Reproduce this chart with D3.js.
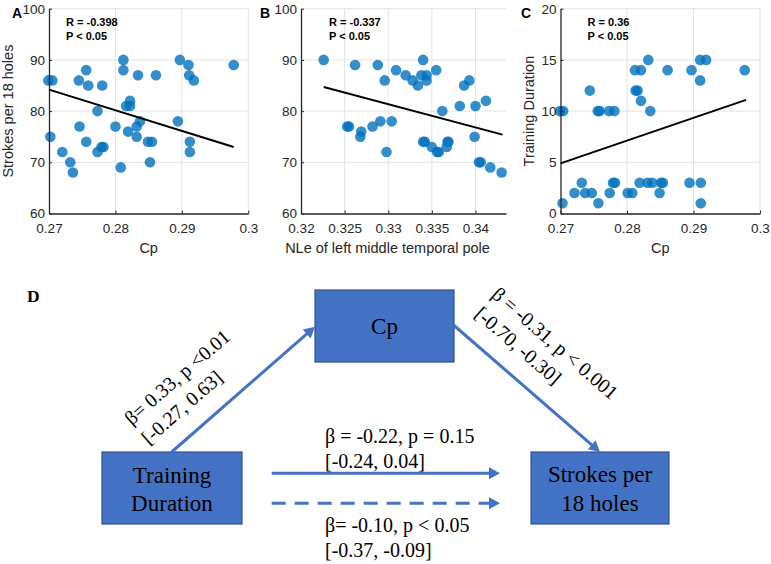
<!DOCTYPE html>
<html>
<head>
<meta charset="utf-8">
<script src="https://cdn.jsdelivr.net/npm/d3@7"></script>
<style>
  body { margin: 0; background: #fff; }
  svg text { fill: #262626; }
  .tick text { font-family: Arial, "Liberation Sans", sans-serif; font-size: 13.5px; }
</style>
</head>
<body>
<div id="chart"></div>
<script>
// panel A: Cp vs strokes
const cpA = [0.2699, 0.2705, 0.2702, 0.2720, 0.2732, 0.2736, 0.2745, 0.2746, 0.2756, 0.2759,
             0.2756, 0.2773, 0.2773, 0.2780, 0.2779, 0.2782, 0.2800, 0.2808, 0.2812, 0.2812,
             0.2816, 0.2822, 0.2822, 0.2819, 0.2832, 0.2837, 0.2832, 0.2834, 0.2849, 0.2855,
             0.2852, 0.2861, 0.2894, 0.2897, 0.2910, 0.2911, 0.2918, 0.2912, 0.2912, 0.2978];
const strokesA = [86, 86, 75, 72, 70, 68, 86, 77, 88, 85,
                  74, 80, 72, 85, 73, 73, 77, 69, 90, 88,
                  81, 82, 81, 76, 77, 78, 75, 87, 74, 74,
                  70, 87, 78, 90, 89, 87, 86, 74, 72, 89];
// panel B: NLe of left middle temporal pole vs strokes
const nleB = [0.3226, 0.3253, 0.3255, 0.3262, 0.3269, 0.3268, 0.3282, 0.3288, 0.3291, 0.3296,
              0.3298, 0.3304, 0.3309, 0.3320, 0.3328, 0.3334, 0.3338, 0.3340, 0.3344, 0.3344,
              0.3340, 0.3342, 0.3350, 0.3356, 0.3358, 0.3355, 0.3362, 0.3367, 0.3368, 0.3369,
              0.3382, 0.3387, 0.3393, 0.3399, 0.3400, 0.3404, 0.3406, 0.3412, 0.3417, 0.3430];
const strokesB = [90, 77, 77, 89, 76, 75, 77, 89, 78, 86,
                  72, 78, 88, 87, 86, 85, 87, 90, 86, 87,
                  74, 74, 73, 72, 72, 88, 80, 73, 74, 74,
                  81, 85, 86, 75, 81, 70, 70, 82, 69, 68];
// panel C: Cp vs training duration
const cpC = [0.2699, 0.2704, 0.2744, 0.2756, 0.2759, 0.2773, 0.2781, 0.2812, 0.2813, 0.2816,
             0.2821, 0.2821, 0.2832, 0.2835, 0.2861, 0.2897, 0.2910, 0.2919, 0.2910, 0.2977,
             0.2732, 0.2779, 0.2782, 0.2819, 0.2831, 0.2838, 0.2851, 0.2854, 0.2894, 0.2911,
             0.2721, 0.2737, 0.2747, 0.2774, 0.2801, 0.2808, 0.2849, 0.2703, 0.2757, 0.2911];
const trainC = [10, 10, 12, 10, 10, 10, 10, 14, 12, 12,
                14, 11, 15, 10, 14, 14, 15, 15, 13, 14,
                3, 3, 3, 3, 3, 3, 3, 3, 3, 3,
                2, 2, 2, 2, 2, 2, 2, 1, 1, 1];

// fitted lines (end points)
const fitAx = [0.27, 0.2978], fitAy = [84.2, 73.0];
const fitBx = [0.3226, 0.3431], fitBy = [84.7, 75.4];
const fitCx = [0.27, 0.2979], fitCy = [4.9, 11.1];

const statsA = ["R = -0.398", "P < 0.05"];
const statsB = ["R = -0.337", "P < 0.05"];
const statsC = ["R = 0.36", "P < 0.05"];

const ticksCp = [0.27, 0.28, 0.29, 0.3];
const ticksNle = [0.32, 0.325, 0.33, 0.335, 0.34];
const ticksStrokes = [60, 70, 80, 90, 100];
const ticksTrain = [0, 5, 10, 15, 20];

const W = 771, H = 564;
const sans = "Arial, 'Liberation Sans', sans-serif";
const serif = "'Times New Roman', 'Liberation Serif', serif";

const svg = d3.select("#chart").append("svg")
    .attr("width", W).attr("height", H)
    .style("background", "#fff");

const yTop = 8.7, yBot = 213.5;
const fmt = v => String(+v.toFixed(4));

const drawScatter = (p) => {
    const x = d3.scaleLinear().domain(p.xdom).range([p.x0, p.x1]);
    const y = d3.scaleLinear().domain(p.ydom).range([yBot, yTop]);
    const g = svg.append("g");

    // grid
    g.append("g").selectAll("line").data(p.xticks.filter(t => t != p.xdom[0]))
        .join("line")
        .attr("x1", v => x(v)).attr("x2", v => x(v))
        .attr("y1", yTop).attr("y2", yBot)
        .attr("stroke", "#e3e3e3").attr("stroke-width", 1);
    g.append("g").selectAll("line").data(p.yticks.filter(t => t != p.ydom[0]))
        .join("line")
        .attr("x1", p.x0).attr("x2", p.x1)
        .attr("y1", v => y(v)).attr("y2", v => y(v))
        .attr("stroke", "#e3e3e3").attr("stroke-width", 1);

    // points
    g.append("g").selectAll("circle").data(p.xs.map((v, i) => [v, p.ys[i]]))
        .join("circle")
        .attr("cx", v => x(v[0])).attr("cy", v => y(v[1]))
        .attr("r", 5.3)
        .attr("fill", "#0072BD").attr("fill-opacity", 0.8);

    // fit line
    g.append("line")
        .attr("x1", x(p.fx[0])).attr("y1", y(p.fy[0]))
        .attr("x2", x(p.fx[1])).attr("y2", y(p.fy[1]))
        .attr("stroke", "#000").attr("stroke-width", 2);

    // axes
    const ax = g.append("g").attr("transform", `translate(0,${yBot})`)
        .call(d3.axisBottom(x).tickValues(p.xticks).tickFormat(fmt).tickSizeInner(-3).tickSizeOuter(0).tickPadding(10));
    const ay = g.append("g").attr("transform", `translate(${p.x0},0)`)
        .call(d3.axisLeft(y).tickValues(p.yticks).tickSizeInner(-3).tickSizeOuter(0).tickPadding(4));
    [ax, ay].forEach(a => {
        a.select(".domain").attr("stroke", "#262626").attr("stroke-width", 1.3);
        a.selectAll(".tick line").attr("stroke", "#262626");
        a.selectAll(".tick text").attr("fill", "#262626");
    });

    // labels
    g.append("text").attr("x", (p.x0 + p.x1) / 2 + (p.xlabDx || 0)).attr("y", 253)
        .attr("text-anchor", "middle").style("font-family", sans).style("font-size", "14.5px")
        .text(p.xlab);
    if (p.ylab) {
        g.append("text")
            .attr("transform", `translate(${p.ylabX},${(yTop + yBot) / 2}) rotate(-90)`)
            .attr("text-anchor", "middle").style("font-family", sans).style("font-size", "14.5px")
            .text(p.ylab);
    }
    g.append("text").attr("x", p.letterX).attr("y", 17.5)
        .style("font-family", sans).style("font-size", "14px").style("font-weight", "bold")
        .style("fill", "#000").text(p.letter);
    p.stats.forEach((s, i) => {
        g.append("text").attr("x", p.x0 + p.statDx).attr("y", 25.5 + i * 14.5)
            .style("font-family", sans).style("font-size", "11px").style("font-weight", "bold")
            .style("fill", "#000").text(s);
    });
};

drawScatter({ xs: cpA, ys: strokesA, fx: fitAx, fy: fitAy, x0: 49, x1: 248.3, xdom: [0.27, 0.3], ydom: [60, 100],
    xticks: ticksCp, yticks: ticksStrokes, xlab: "Cp", ylab: "Strokes per 18 holes", ylabX: 13,
    letter: "A", letterX: 12, stats: statsA, statDx: 17 });
drawScatter({ xs: nleB, ys: strokesB, fx: fitBx, fy: fitBy, x0: 301, x1: 506, xdom: [0.32, 0.3435], ydom: [60, 100],
    xticks: ticksNle, yticks: ticksStrokes, xlab: "NLe of left middle temporal pole", xlabDx: -16,
    letter: "B", letterX: 260, stats: statsB, statDx: 28 });
drawScatter({ xs: cpC, ys: trainC, fx: fitCx, fy: fitCy, x0: 560.5, x1: 760, xdom: [0.27, 0.3], ydom: [0, 20],
    xticks: ticksCp, yticks: ticksTrain, xlab: "Cp", ylab: "Training Duration", ylabX: 534,
    letter: "C", letterX: 521, stats: statsC, statDx: 27 });

// ---- panel D: mediation diagram ----
const blue = "#4472C4";
const dg = svg.append("g");

dg.append("text").attr("x", 27).attr("y", 301.5)
    .style("font-family", serif).style("font-size", "17.5px").style("font-weight", "bold")
    .style("fill", "#000").text("D");

const boxes = [
    { x: 315, y: 290, w: 139, h: 72, lines: ["Cp"], base: [333.5] },
    { x: 102, y: 452, w: 140, h: 72, lines: ["Training", "Duration"], base: [483, 510.5] },
    { x: 531, y: 452, w: 138, h: 72, lines: ["Strokes per", "18 holes"], base: [482, 510.5] }
];
boxes.forEach(b => {
    dg.append("rect").attr("x", b.x).attr("y", b.y).attr("width", b.w).attr("height", b.h)
        .attr("fill", blue).attr("stroke", "#2F528F").attr("stroke-width", 1.2);
    b.lines.forEach((t, i) => {
        dg.append("text").attr("x", b.x + b.w / 2).attr("y", b.base[i])
            .attr("text-anchor", "middle").style("font-family", serif).style("font-size", "23px")
            .style("fill", "#000").text(t);
    });
});

const arrow = (x1, y1, x2, y2, dashed) => {
    const L = Math.hypot(x2 - x1, y2 - y1), ux = (x2 - x1) / L, uy = (y2 - y1) / L;
    const hl = 11, hw = 6;
    const bx = x2 - ux * hl, by = y2 - uy * hl;
    dg.append("line").attr("x1", x1).attr("y1", y1).attr("x2", bx + ux * 2).attr("y2", by + uy * 2)
        .attr("stroke", blue).attr("stroke-width", 3)
        .attr("stroke-dasharray", dashed ? "14,9" : null);
    dg.append("path")
        .attr("d", `M${x2},${y2}L${bx - uy * hw},${by + ux * hw}L${bx + uy * hw},${by - ux * hw}Z`)
        .attr("fill", blue);
};
arrow(171.7, 452, 315, 326.7);
arrow(453.5, 325, 600, 452);
arrow(271.7, 473.3, 500, 473.3);
arrow(271.7, 503.3, 500, 503.3, true);

const pathLabel = (x1, y1, x2, y2, lines, s) => {
    const ang = Math.atan2(y2 - y1, x2 - x1) * 180 / Math.PI;
    const g = dg.append("g").attr("transform", `translate(${x1},${y1}) rotate(${ang})`);
    lines.forEach((t, i) => {
        g.append("text").attr("x", s).attr("y", i == 0 ? -46 : -20)
            .style("font-family", serif).style("font-size", "20px").style("fill", "#000").text(t);
    });
};
pathLabel(171.7, 452, 315, 326.7, ["β= 0.33, p <0.01", "[-0.27, 0.63]"], -13);
pathLabel(453.5, 325, 600, 452, ["β = -0.31, p < 0.001", "[-0.70, -0.30]"], 9);

const flat = [["β = -0.22, p = 0.15", 443], ["[-0.24, 0.04]", 467.5], ["β= -0.10, p < 0.05", 532], ["[-0.37, -0.09]", 557]];
flat.forEach(([t, yy]) => {
    dg.append("text").attr("x", 325).attr("y", yy)
        .style("font-family", serif).style("font-size", "20px").style("fill", "#000").text(t);
});
</script>
</body>
</html>
